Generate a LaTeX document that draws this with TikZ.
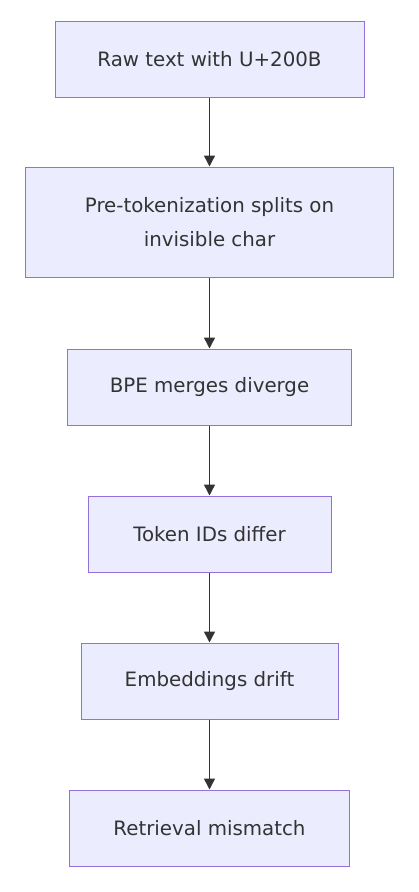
\documentclass[tikz,border=0pt]{standalone}
\usepackage{fontspec}
\setmainfont{DejaVu Sans}
\usepackage{xcolor}
\usetikzlibrary{arrows.meta}
\definecolor{boxfill}{HTML}{ECECFF}
\definecolor{boxline}{HTML}{9370DB}
\definecolor{ink}{HTML}{333333}

\begin{document}
\begin{tikzpicture}[x=1pt, y=-1pt, every node/.style={rectangle, draw=boxline, fill=boxfill, line width=1pt, text=ink, align=center, inner sep=0pt, minimum height=76pt, font=\fontsize{19.8}{34}\selectfont}, flow/.style={draw=ink, line width=1.4pt, -{Triangle[length=11pt, width=11pt]}}]
    \useasboundingbox (0,0) rectangle (418,892);
    \node[minimum width=309pt] (0) at (209.5,59) {Raw text with U+200B};
    \node[minimum width=368pt, minimum height=110pt] (1) at (209.5,222) {Pre-tokenization splits on\\invisible char};
    \node[minimum width=284pt] (2) at (209.5,387) {BPE merges diverge};
    \node[minimum width=243pt] (3) at (209.5,534) {Token IDs differ};
    \node[minimum width=257pt] (4) at (209.5,681) {Embeddings drift};
    \node[minimum width=280pt] (5) at (209.5,828) {Retrieval mismatch};
        \draw[flow] (0) -- (1);
        \draw[flow] (1) -- (2);
        \draw[flow] (2) -- (3);
        \draw[flow] (3) -- (4);
        \draw[flow] (4) -- (5);
\end{tikzpicture}
\end{document}
